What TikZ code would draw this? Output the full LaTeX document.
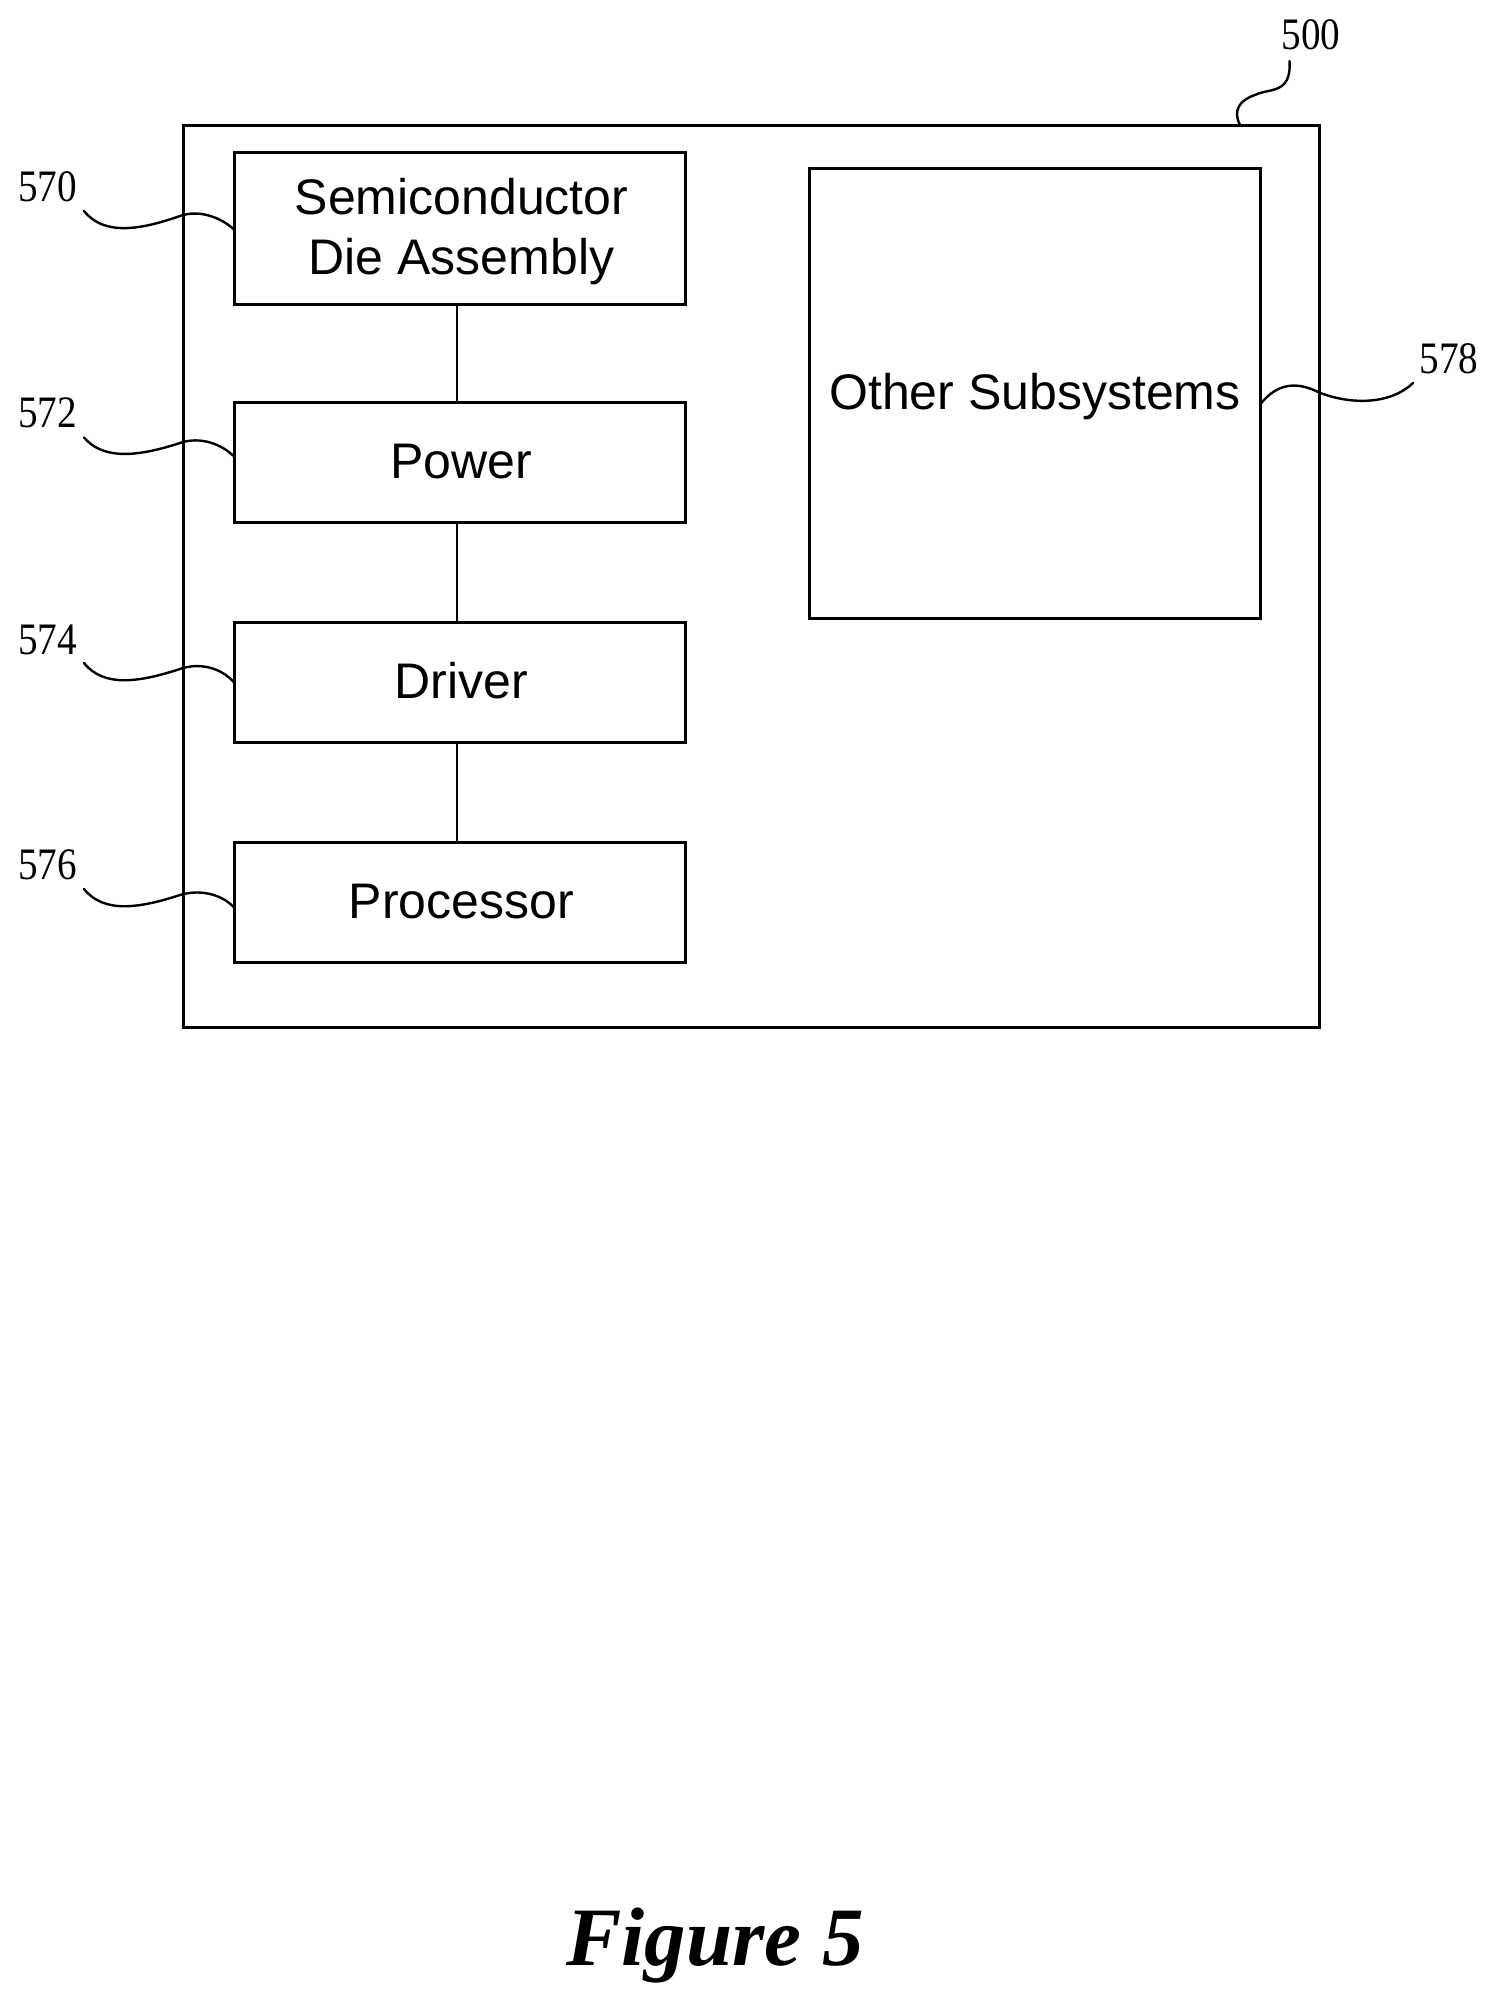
\documentclass[tikz,border=0pt]{standalone}
\usepackage{fontspec}
\usepackage{graphicx}
\usetikzlibrary{calc}
\setmainfont{Liberation Sans}
\newfontfamily\serifnum{Liberation Serif}
\tikzset{
  unitbox/.style={draw=black,line width=3pt,inner sep=0pt,outer sep=0pt,fill=none,align=center,
    font=\fontsize{50pt}{60pt}\selectfont},
  oneline/.style={text height=36pt,text depth=4.5pt},
  link/.style={draw=black,line width=2.6pt},
  leader/.style={draw=black,line width=2.4pt,line cap=round},
  refnum/.style={anchor=base,inner sep=0pt,outer sep=0pt,font=\serifnum\fontsize{45pt}{50pt}\selectfont},
  figtitle/.style={anchor=base,inner sep=0pt,outer sep=0pt,font=\serifnum\bfseries\itshape\fontsize{83pt}{90pt}\selectfont}
}
\newcommand{\narrownum}[1]{\scalebox{0.87}[1]{#1}}
\newcommand{\nudge}{\hspace*{3pt}}
\begin{document}
\begin{tikzpicture}[x=1pt,y=-1pt]
\useasboundingbox (0,0) rectangle (1497,2001);
\fill[white] (0,0) rectangle (1497,2001);

% boxes
\node[unitbox,minimum width=1135.5pt,minimum height=901pt] (outer) at (751.5,576.5) {};
\node[unitbox,minimum width=451pt,minimum height=151pt] (die) at (460,228.5)
  {\rule{0pt}{43pt}\nudge Semiconductor\\\nudge Die Assembly};
\node[unitbox,oneline,minimum width=451pt,minimum height=120pt] (power) at (460,462.5) {\nudge Power};
\node[unitbox,oneline,minimum width=451pt,minimum height=120pt] (driver) at (460,682.7) {\nudge Driver};
\node[unitbox,oneline,minimum width=451pt,minimum height=120pt] (proc) at (460,902.7) {\nudge Processor};
\node[unitbox,oneline,minimum width=451pt,minimum height=450pt] (other) at (1035,393.5) {Other Subsystems};

% connectors between blocks
\draw[link] ($(die.south)+(-3,0)$) -- ($(power.north)+(-3,0)$);
\draw[link] ($(power.south)+(-3,0)$) -- ($(driver.north)+(-3,0)$);
\draw[link] ($(driver.south)+(-3,0)$) -- ($(proc.north)+(-3,0)$);

% reference numerals
\node[refnum] (n570) at (47.5,202) {\narrownum{570}};
\node[refnum] (n572) at (47.5,427.5) {\narrownum{572}};
\node[refnum] (n574) at (47.5,654) {\narrownum{574}};
\node[refnum] (n576) at (47.5,879) {\narrownum{576}};
\node[refnum] (n578) at (1449,373) {\narrownum{578}};
\node[refnum] (n500) at (1311,49.7) {\narrownum{500}};

% free ends of the lead lines
\coordinate (f570) at (84,211);
\coordinate (f572) at (84,437.5);
\coordinate (f574) at (84,663);
\coordinate (f576) at (84,889);
\coordinate (f578) at (1413,383);
\coordinate (f500) at (1289.5,61);

% lead lines
\draw[leader] (f570) .. controls (104,236) and (140,230) .. (180,216)
  .. controls (200,209) and (222,218) .. ($(die.west)+(0,1.5)$);
\draw[leader] (f572) .. controls (104,461) and (140,456) .. (180,443)
  .. controls (200,436) and (222,444) .. ($(power.west)+(0,-5.5)$);
\draw[leader] (f574) .. controls (104,688) and (140,682) .. (180,669)
  .. controls (200,662) and (222,668) .. ($(driver.west)+(0,0.3)$);
\draw[leader] (f576) .. controls (104,914) and (140,908) .. (180,895)
  .. controls (200,889) and (222,894) .. ($(proc.west)+(0,5.3)$);
\draw[leader] (f578) .. controls (1390,405) and (1350,405) .. (1318,392)
  .. controls (1298,382) and (1278,382) .. ($(other.east)+(0,10.5)$);
\draw[leader] (f500) .. controls (1292,95) and (1268,88) .. (1255,95)
  .. controls (1240,100) and (1232,110) .. ($(outer.north)+(489,0)$);

% title
\node[figtitle] (fig) at (715,1965) {Figure 5};
\end{tikzpicture}
\end{document}
